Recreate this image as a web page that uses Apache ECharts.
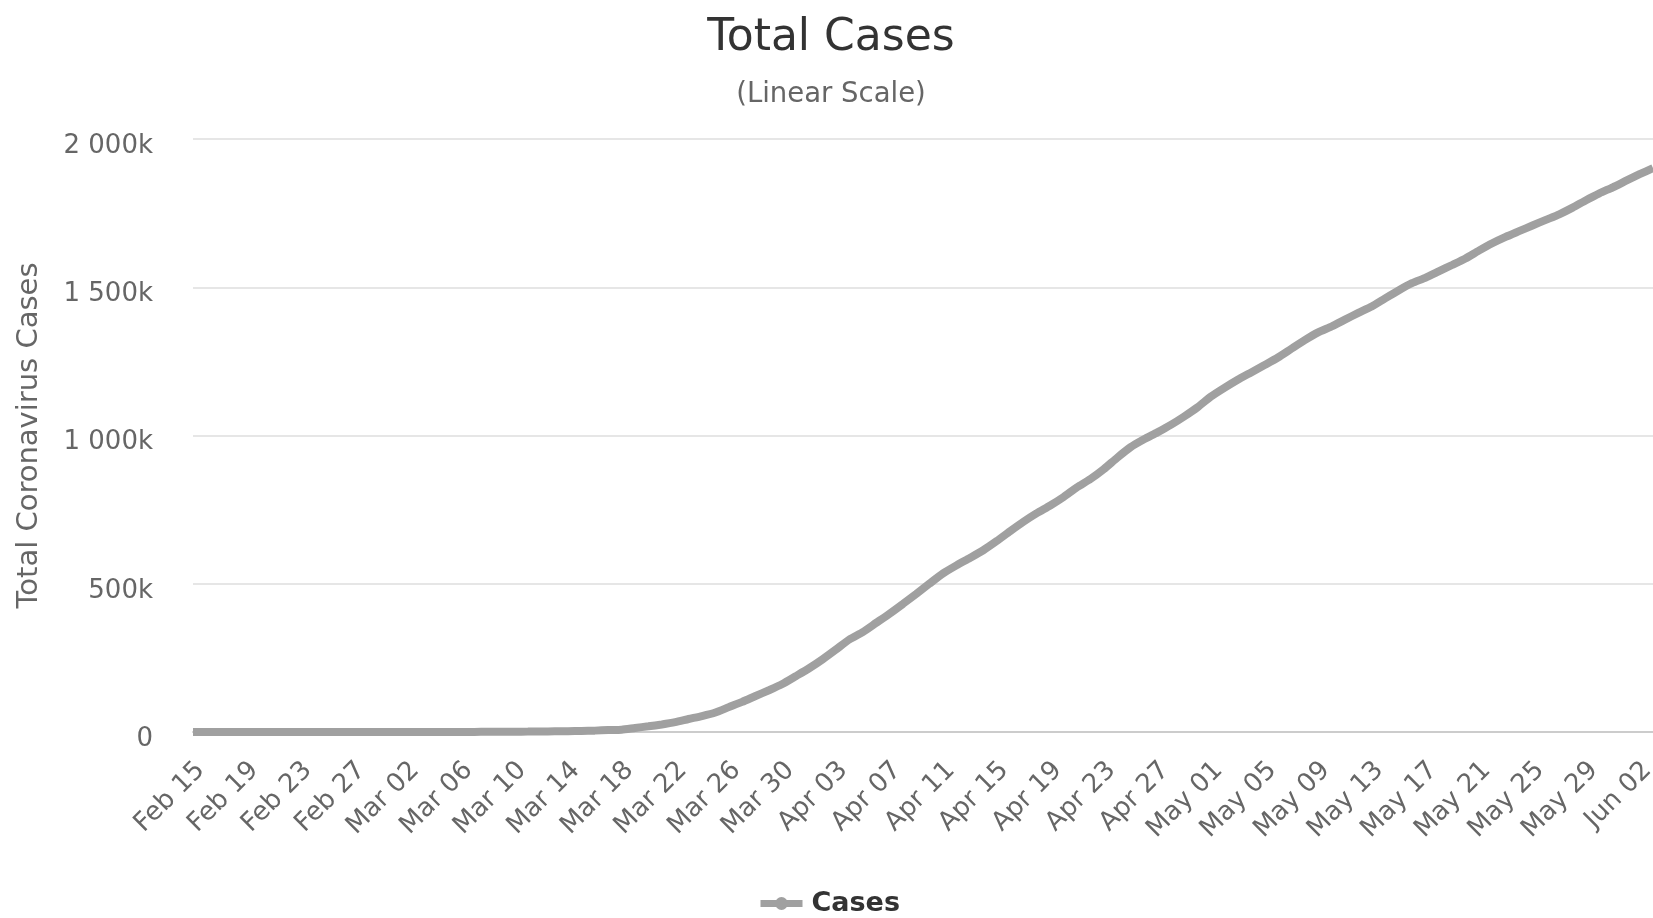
<!DOCTYPE html>
<html>
<head>
<meta charset="utf-8">
<script src="https://cdn.jsdelivr.net/npm/echarts@6/dist/echarts.min.js"></script>
<style>
html,body{margin:0;padding:0;background:#fff;}
#chart{width:1653px;height:918px;}
</style>
</head>
<body>
<div id="chart"></div>
<script>
var categories = [
 "Feb 15","Feb 16","Feb 17","Feb 18","Feb 19","Feb 20","Feb 21","Feb 22","Feb 23","Feb 24","Feb 25","Feb 26","Feb 27","Feb 28","Feb 29",
 "Mar 01","Mar 02","Mar 03","Mar 04","Mar 05","Mar 06","Mar 07","Mar 08","Mar 09","Mar 10","Mar 11","Mar 12","Mar 13","Mar 14","Mar 15","Mar 16","Mar 17","Mar 18","Mar 19","Mar 20","Mar 21","Mar 22","Mar 23","Mar 24","Mar 25","Mar 26","Mar 27","Mar 28","Mar 29","Mar 30","Mar 31",
 "Apr 01","Apr 02","Apr 03","Apr 04","Apr 05","Apr 06","Apr 07","Apr 08","Apr 09","Apr 10","Apr 11","Apr 12","Apr 13","Apr 14","Apr 15","Apr 16","Apr 17","Apr 18","Apr 19","Apr 20","Apr 21","Apr 22","Apr 23","Apr 24","Apr 25","Apr 26","Apr 27","Apr 28","Apr 29","Apr 30",
 "May 01","May 02","May 03","May 04","May 05","May 06","May 07","May 08","May 09","May 10","May 11","May 12","May 13","May 14","May 15","May 16","May 17","May 18","May 19","May 20","May 21","May 22","May 23","May 24","May 25","May 26","May 27","May 28","May 29","May 30","May 31",
 "Jun 01","Jun 02","Jun 03"
];

var cases = [
 15,15,15,15,15,15,35,35,35,53,53,59,60,62,70,
 76,101,122,153,221,278,417,537,605,959,1281,1663,2179,2726,3499,4632,6421,7786,13680,19100,25489,33276,43843,53740,65778,83836,101657,121478,140886,161807,188172,
 215000,245000,278000,312000,337000,368000,399000,432000,466000,501000,535000,562000,587000,613000,644000,677000,709000,738000,764000,792759,825306,853264,886709,925038,960651,987160,1010507,1035765,1064194,1095304,
 1131452,1160774,1188122,1212835,1237633,1263092,1292623,1321785,1347936,1367638,1390746,1413593,1435098,1462514,1489165,1513522,1531795,1553376,1575063,1597170,1623542,1648283,1669833,1689128,1708343,1727283,1746019,1768416,1793528,1816820,1837170,
 1859323,1881205,1901783
];

var yTicks = [0, 500000, 1000000, 1500000, 2000000];
var yTickLabels = ["0", "500k", "1 000k", "1 500k", "2 000k"];

var FONT = "DejaVu Sans";
var chart = echarts.init(document.getElementById('chart'));
chart.setOption({
  backgroundColor: '#ffffff',
  animation: false,
  title: [
    {text: 'Total Cases', left: 826, top: 12, textAlign: 'center',
     textStyle: {fontFamily: FONT, fontSize: 44, fontWeight: 'normal', color: '#333333'}},
    {text: '(Linear Scale)', left: 826, top: 76, textAlign: 'center',
     textStyle: {fontFamily: FONT, fontSize: 27.5, fontWeight: 'normal', color: '#666666'}}
  ],
  legend: {
    data: ['Cases'], left: 752, top: 885,
    itemWidth: 42, itemHeight: 16, itemGap: 10,
    lineStyle: {width: 7},
    itemStyle: {color: '#a0a0a0'},
    textStyle: {fontFamily: FONT, fontSize: 27, fontWeight: 'bold', color: '#333333', padding: [0, 0, 0, 4]}
  },
  grid: {left: 193, right: 0, top: 139, bottom: 186, containLabel: false, outerBoundsMode: 'none'},
  xAxis: {
    type: 'category', data: categories, boundaryGap: false,
    axisLine: {show: true, lineStyle: {color: '#cccccc', width: 2}},
    axisTick: {show: false},
    axisLabel: {interval: 3, rotate: 45, margin: 42, padding: [0, -11, 0, 0],
      fontFamily: FONT, fontSize: 26, color: '#666666'},
    splitLine: {show: false}
  },
  yAxis: {
    type: 'value', min: 0, max: 2000000, interval: 500000,
    name: 'Total Coronavirus Cases', nameLocation: 'middle', nameGap: 149, nameRotate: 90,
    nameTextStyle: {fontFamily: FONT, fontSize: 29, color: '#666666'},
    axisLine: {show: false}, axisTick: {show: false},
    axisLabel: {margin: 40, fontFamily: FONT, fontSize: 26, color: '#666666',
      verticalAlign: 'top', lineHeight: 14,
      formatter: function (v) { var i = yTicks.indexOf(v); return i >= 0 ? yTickLabels[i] : ''; }},
    splitLine: {lineStyle: {color: '#e6e6e6', width: 2}}
  },
  series: [{
    name: 'Cases', type: 'line', data: cases,
    symbol: 'circle', symbolSize: 14, showSymbol: false,
    itemStyle: {color: '#a0a0a0'},
    lineStyle: {color: '#a0a0a0', width: 8},
    smooth: 0.2
  }]
});
</script>
</body>
</html>
